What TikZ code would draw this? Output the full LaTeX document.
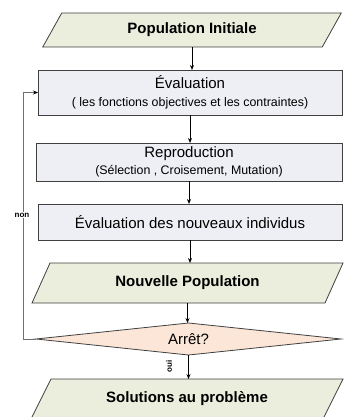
\documentclass[tikz,border=0pt]{standalone}
\usepackage{fontspec}
\setmainfont{Liberation Sans}
\usetikzlibrary{backgrounds,arrows.meta}

\definecolor{paraFill}{HTML}{EBEEDC}
\definecolor{boxFill}{HTML}{EEEEF5}
\definecolor{testFill}{HTML}{FCE6D8}
\definecolor{edgeCol}{HTML}{404040}
\definecolor{loopCol}{HTML}{707070}

\tikzset{
  base/.style={inner sep=0pt, outer sep=0pt, text=black, align=center},
  stepbox/.style={base, draw=edgeCol, fill=boxFill, line width=0.8pt,
    font=\fontsize{15}{17}\selectfont},
  ioshape/.style={base, font=\bfseries\fontsize{15}{17}\selectfont},
  testshape/.style={base, font=\fontsize{15}{17}\selectfont},
  outline/.style={draw=edgeCol, line width=0.8pt},
  flow/.style={-{Stealth[length=5pt,width=4pt]}, line width=0.8pt, draw=black},
  loopline/.style={-{Stealth[length=5pt,width=4pt,color=black]}, line width=0.9pt, draw=loopCol},
  tag/.style={font=\bfseries\fontsize{8}{9}\selectfont, inner sep=1pt},
}
\newcommand{\subline}[1]{{\fontsize{12.4}{14}\selectfont #1}}
% parallelogram around a rectangular node: top edge shifted right, bottom edge left
\newcommand{\slantframe}[2]{%
  \draw[outline, fill=paraFill]
    ([xshift=#2pt]#1.north west) -- ([xshift=#2pt]#1.north east) --
    ([xshift=-#2pt]#1.south east) -- ([xshift=-#2pt]#1.south west) -- cycle;}

\begin{document}
\begin{tikzpicture}[x=1pt, y=-1pt]
  \clip (0,0) rectangle (343,417);
  \useasboundingbox (0,0) rectangle (343,417);

  % flow steps
  \node[ioshape, minimum width=279.5pt, minimum height=34pt] (pi) at (192,30) {Population Initiale};
  \node[stepbox, minimum width=304pt, minimum height=45pt] (ev) at (190,92.5)
    {Évaluation\\[1pt]\subline{( les fonctions objectives et les contraintes)}};
  \node[stepbox, minimum width=306pt, minimum height=38pt] (rep) at (189,162)
    {Reproduction\\[0pt]\subline{(Sélection , Croisement, Mutation)}};
  \node[stepbox, minimum width=304pt, minimum height=36pt] (evn) at (190,222)
    {Évaluation des nouveaux individus};
  \node[ioshape, minimum width=293pt, minimum height=40pt] (np) at (187.5,283) {Nouvelle Population};
  \node[testshape, minimum width=305pt, minimum height=32pt] (ar) at (188.5,339) {Arrêt?};
  \node[ioshape, minimum width=292pt, minimum height=40pt] (sol) at (187,399) {Solutions au problème};

  % shapes behind the texts
  \begin{pgfonlayer}{background}
    \fill[white] (0,0) rectangle (343,417);
    \slantframe{pi}{9.5}
    \slantframe{np}{9}
    \slantframe{sol}{10}
    \draw[outline, fill=testFill] (ar.west) -- (ar.north) -- (ar.east) -- (ar.south) -- cycle;
  \end{pgfonlayer}

  % connectors
  \draw[flow] (pi.south) -- (pi.south |- ev.north);
  \draw[flow] (ev.south) -- (ev.south |- rep.north);
  \draw[flow] (rep.south) -- (rep.south |- evn.north);
  \draw[flow] (evn.south) -- (evn.south |- np.north);
  \draw[flow] (np.south) -- (np.south |- ar.north);
  \draw[flow] (ar.south) -- (ar.south |- sol.north);

  % loop back when the stop test fails
  \coordinate (lp) at (23,339);
  \draw[loopline] (ar.west) -- (lp) |- (ev.west);
  \node[tag, fill=white] (no) at (22,215) {non};
  \node[tag, rotate=90] (yes) at (169,366) {oui};
\end{tikzpicture}
\end{document}
